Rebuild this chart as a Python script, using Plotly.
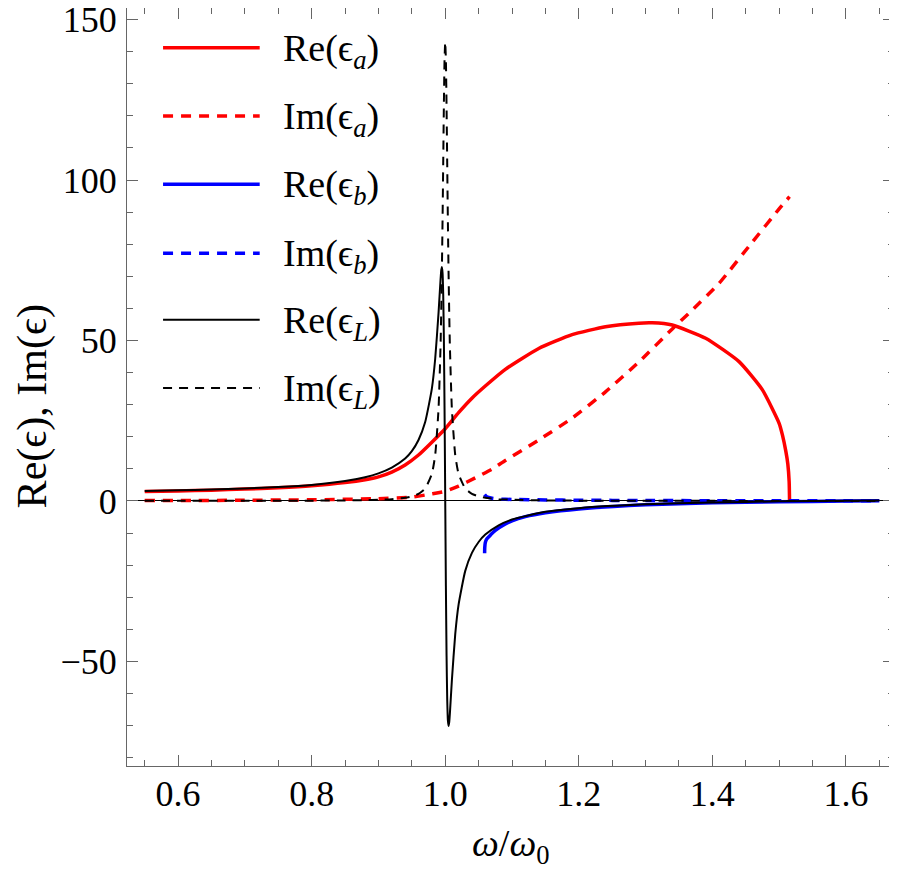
import plotly.graph_objects as go

# Lorentz medium (epsilon_L)
w_L = [0.55, 0.6, 0.65, 0.7, 0.75, 0.8, 0.85, 0.88, 0.9, 0.92,
       0.94, 0.95, 0.96, 0.97, 0.98, 0.985, 0.99, 0.993, 0.994, 0.995,
       0.996, 0.997, 0.998, 0.999, 1.0, 1.001, 1.002, 1.003, 1.004, 1.005,
       1.006, 1.007, 1.01, 1.015, 1.02, 1.03, 1.04, 1.05, 1.06, 1.08,
       1.1, 1.15, 1.2, 1.3, 1.4, 1.5, 1.6, 1.65]
re_L = [3.1, 3.3, 3.55, 3.9, 4.35, 5.0, 6.2, 7.4, 8.6, 10.4,
        13.2, 15.5, 19.0, 24.6, 35.0, 44.3, 58.6, 69.0, 71.7, 72.9,
        71.1, 64.3, 50.4, 28.5, 1.0, -26.5, -48.2, -61.9, -68.4, -70.1,
        -68.9, -66.2, -55.8, -41.5, -32.3, -21.8, -16.2, -12.8, -10.5, -7.6,
        -5.8, -3.4, -2.25, -1.07, -0.49, -0.14, 0.08, 0.17]
im_L = [0.02, 0.02, 0.03, 0.04, 0.06, 0.09, 0.16, 0.25, 0.36, 0.55,
        0.99, 1.42, 2.2, 3.87, 8.4, 14.3, 28.7, 48.4, 58.8, 71.7,
        87.4, 105.4, 123.5, 137.6, 143.0, 137.4, 123.1, 104.9, 87.0, 71.3,
        58.5, 48.2, 28.5, 14.3, 8.4, 3.86, 2.2, 1.41, 0.99, 0.56,
        0.36, 0.17, 0.09, 0.04, 0.02, 0.01, 0.01, 0.01]

# epsilon_a
w_a_re = [0.55, 0.6, 0.65, 0.7, 0.75, 0.8, 0.85, 0.88, 0.9, 0.92,
          0.94, 0.96, 0.98, 1.0, 1.02, 1.04, 1.06, 1.09, 1.14, 1.19,
          1.24, 1.29, 1.31, 1.34, 1.39, 1.44, 1.475, 1.5, 1.505, 1.51,
          1.513, 1.515, 1.5156]
re_a = [2.9, 3.1, 3.35, 3.7, 4.1, 4.7, 5.7, 6.6, 7.5, 9.0,
        11.2, 14.3, 18.3, 22.5, 27.5, 32.0, 35.8, 41.0, 47.5, 51.8,
        54.3, 55.4, 55.5, 54.8, 50.7, 43.4, 34.6, 24.2, 20.5, 15.5,
        11.5, 6.0, 0.0]
w_a_im = [0.55, 0.7, 0.8, 0.9, 0.95, 0.98, 1.0, 1.02, 1.045, 1.07,
          1.09, 1.14, 1.19, 1.24, 1.29, 1.34, 1.37, 1.41, 1.46, 1.5, 1.5156]
im_a = [0.1, 0.2, 0.35, 0.7, 1.2, 2.2, 3.0, 4.6, 7.2, 9.9,
        12.6, 19.0, 25.8, 34.0, 43.3, 53.6, 59.5, 67.8, 80.7, 91.0, 94.8]

# epsilon_b
w_b_re = [1.059, 1.0592, 1.06, 1.062, 1.0665, 1.075, 1.09, 1.1, 1.12, 1.15,
          1.2, 1.3, 1.4, 1.5, 1.6, 1.65]
re_b = [-16.3, -14.5, -13.0, -11.9, -10.9, -9.2, -7.2, -6.2, -4.9, -3.7,
        -2.5, -1.2, -0.6, -0.25, -0.05, 0.05]
w_b_im = [1.059, 1.062, 1.07, 1.08, 1.1, 1.15, 1.2, 1.3, 1.4, 1.5, 1.6, 1.65]
im_b = [2.0, 1.3, 0.85, 0.6, 0.45, 0.3, 0.22, 0.13, 0.08, 0.05, 0.03, 0.02]

RED = "#ff0000"
BLUE = "#0000ff"
BLACK = "#000000"
FONT = "Liberation Serif"

series = [
    (w_a_re, re_a, RED, 3.5, "solid", "Re(ϵ<sub><i>a</i></sub>)"),
    (w_a_im, im_a, RED, 3.5, "10px,8px", "Im(ϵ<sub><i>a</i></sub>)"),
    (w_b_re, re_b, BLUE, 3.5, "solid", "Re(ϵ<sub><i>b</i></sub>)"),
    (w_b_im, im_b, BLUE, 3.5, "10px,8px", "Im(ϵ<sub><i>b</i></sub>)"),
    (w_L, re_L, BLACK, 2, "solid", "Re(ϵ<sub><i>L</i></sub>)"),
    (w_L, im_L, BLACK, 2, "9px,7px", "Im(ϵ<sub><i>L</i></sub>)"),
]

fig = go.Figure()
for xs, ys, col, lw, dash, name in series:
    fig.add_trace(go.Scatter(x=xs, y=ys, mode="lines", name=name,
                             line=dict(color=col, width=lw, dash=dash,
                                       shape="spline", smoothing=0.5),
                             showlegend=False))

# hand-made legend (long line samples like the original)
row_y = [0.9476, 0.8575, 0.7676, 0.6766, 0.5886, 0.4986]
for (xs, ys, col, lw, dash, name), yy in zip(series, row_y):
    fig.add_shape(type="line", xref="paper", yref="paper",
                  x0=0.047, x1=0.173, y0=yy, y1=yy,
                  line=dict(color=col, width=lw, dash=dash))
    fig.add_annotation(xref="paper", yref="paper", x=0.201, y=yy - 0.004,
                       xanchor="left", yanchor="middle", showarrow=False,
                       text=name, font=dict(family=FONT, size=38, color="black"))

axis_common = dict(showline=True, linecolor="#666", linewidth=1, mirror="allticks",
                   ticks="inside", ticklen=11, tickcolor="#666", tickwidth=1,
                   showgrid=False, automargin=False, ticklabeloverflow="allow",
                   tickfont=dict(family=FONT, size=36, color="black"))

fig.update_xaxes(range=[0.5235, 1.672], dtick=0.2, tick0=0.6, tickformat=".1f",
                 zeroline=False, ticklabelstandoff=-4,
                 minor=dict(ticks="inside", ticklen=6, dtick=0.05, tick0=0.6, tickcolor="#666"),
                 **axis_common)
fig.update_yaxes(range=[-82.6, 153.6], dtick=50, tick0=0,
                 zeroline=True, zerolinecolor="black", zerolinewidth=1.2,
                 ticklabelstandoff=2,
                 minor=dict(ticks="inside", ticklen=6, dtick=10, tick0=0, tickcolor="#666"),
                 **axis_common)

# axis titles placed as annotations
fig.add_annotation(xref="paper", yref="paper", x=0.5, y=-0.105,
                   xanchor="center", yanchor="middle", showarrow=False,
                   text="<i>ω</i>/<i>ω</i><sub>0</sub>",
                   font=dict(family=FONT, size=38, color="black"))
fig.add_annotation(xref="paper", yref="paper", x=-0.122, y=0.475,
                   xanchor="center", yanchor="middle", showarrow=False, textangle=-90,
                   text="Re(ϵ), Im(ϵ)",
                   font=dict(family=FONT, size=42, color="black"))

# the page adds an 8px body margin, so the figure is sized to fit the window
fig.update_layout(width=889, height=861,
                  margin=dict(l=119, r=3, t=0, b=103),
                  plot_bgcolor="white", paper_bgcolor="white",
                  font=dict(family=FONT))

fig.write_html("out.html")
